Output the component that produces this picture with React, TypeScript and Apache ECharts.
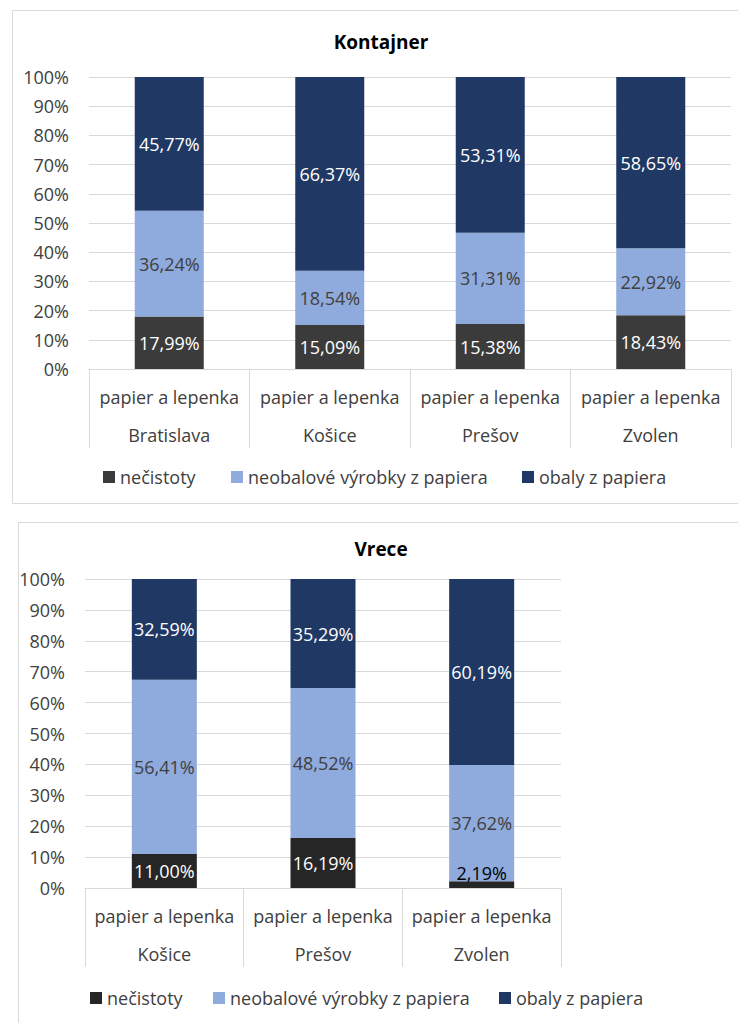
import React, { useEffect, useRef } from "react";
import * as echarts from "echarts";

const seriesNames = ["nečistoty", "neobalové výrobky z papiera", "obaly z papiera"];
const subCategory = "papier a lepenka";
const yTicks = [0, 10, 20, 30, 40, 50, 60, 70, 80, 90, 100];

const topTitle = "Kontajner";
const topCities = ["Bratislava", "Košice", "Prešov", "Zvolen"];
const topNecistoty = [17.99, 15.09, 15.38, 18.43];
const topNeobalove = [36.24, 18.54, 31.31, 22.92];
const topObaly = [45.77, 66.37, 53.31, 58.65];

const botTitle = "Vrece";
const botCities = ["Košice", "Prešov", "Zvolen"];
const botNecistoty = [11.0, 16.19, 2.19];
const botNeobalove = [56.41, 48.52, 37.62];
const botObaly = [32.59, 35.29, 60.19];

const FONT = "Open Sans";
const FS = 18;
const fmt = (v: number) => v.toFixed(2).replace(".", ",") + "%";

type Cfg = {
  title: string;
  cities: string[];
  values: number[][];
  colors: string[];
  grid: { left: number; top: number; width: number; height: number };
  barWidth: number;
  titleX: number;
  titleY: number;
  legendLefts: number[];
  legendTop: number;
  border: { x: number; y: number; w: number; h: number };
  smallLabelIdx?: number;
};

function buildOption(c: Cfg) {
  const labelColors = ["#ffffff", "#404040", "#ffffff"];
  return {
    animation: false,
    textStyle: { fontFamily: FONT },
    graphic: [
      {
        type: "rect",
        shape: { x: c.border.x, y: c.border.y, width: c.border.w, height: c.border.h },
        style: { fill: "none", stroke: "#d9d9d9", lineWidth: 1 },
        silent: true,
        z: -1,
      },
      {
        type: "text",
        x: c.titleX,
        y: c.titleY,
        style: {
          text: c.title,
          fontFamily: FONT,
          fontSize: 19,
          fontWeight: "bold",
          fill: "#000000",
          align: "center",
          verticalAlign: "middle",
        },
      },
    ],
    legend: seriesNames.map((n, i) => ({
      left: c.legendLefts[i],
      top: c.legendTop,
      itemWidth: 12,
      itemHeight: 12,
      icon: "rect",
      textStyle: { fontFamily: FONT, fontSize: FS, color: "#404040" },
      data: [{ name: n, itemStyle: { color: c.colors[i] } }],
    })),
    grid: { ...c.grid, containLabel: false },
    xAxis: {
      type: "category",
      data: c.cities,
      axisLine: { show: true, lineStyle: { color: "#d9d9d9", width: 1 } },
      axisTick: { show: true, interval: 0, length: 79, lineStyle: { color: "#d9d9d9", width: 1 } },
      axisLabel: {
        interval: 0,
        margin: 9,
        fontFamily: FONT,
        fontSize: FS,
        color: "#404040",
        lineHeight: 38,
        formatter: (v: string) => subCategory + "\n" + v,
      },
    },
    yAxis: {
      type: "value",
      min: 0,
      max: 100,
      interval: 10,
      axisLine: { show: false },
      axisTick: { show: false },
      splitLine: { lineStyle: { color: "#d9d9d9", width: 1 } },
      axisLabel: {
        margin: 20,
        fontFamily: FONT,
        fontSize: FS,
        color: "#404040",
        formatter: (v: number) => (yTicks.includes(v) ? v + "%" : ""),
      },
    },
    series: seriesNames.map((name, si) => ({
      name,
      type: "bar",
      stack: "total",
      barWidth: c.barWidth,
      itemStyle: { color: c.colors[si] },
      label: {
        show: true,
        position: "inside",
        fontFamily: FONT,
        fontSize: FS,
        color: labelColors[si],
        formatter: (p: any) => fmt(p.value),
      },
      data: c.values[si].map((v, di) =>
        si === 0 && c.smallLabelIdx === di
          ? { value: v, label: { color: "#000000", offset: [0, -12] } }
          : v
      ),
    })),
  };
}

function ChartBox({ cfg, top, height }: { cfg: Cfg; top: number; height: number }) {
  const ref = useRef<HTMLDivElement>(null);
  useEffect(() => {
    if (!ref.current) return;
    const chart = echarts.init(ref.current, undefined, { renderer: "svg" });
    chart.setOption(buildOption(cfg) as any);
    return () => chart.dispose();
  }, []);
  return (
    <div
      ref={ref}
      style={{ position: "absolute", left: 0, top, width: 738, height }}
    />
  );
}

const topCfg: Cfg = {
  title: topTitle,
  cities: topCities,
  values: [topNecistoty, topNeobalove, topObaly],
  colors: ["#3b3b3b", "#8faadc", "#203864"],
  grid: { left: 89, top: 77, width: 642, height: 292 },
  barWidth: 69,
  titleX: 381,
  titleY: 42,
  legendLefts: [98, 226, 517],
  legendTop: 463,
  border: { x: 12.5, y: 10.5, w: 740, h: 493 },
};

const botCfg: Cfg = {
  title: botTitle,
  cities: botCities,
  values: [botNecistoty, botNeobalove, botObaly],
  colors: ["#262626", "#8faadc", "#203864"],
  grid: { left: 85, top: 69, width: 476, height: 309 },
  barWidth: 65,
  titleX: 381,
  titleY: 39,
  legendLefts: [85, 208, 494],
  legendTop: 474,
  border: { x: 18.5, y: 12.5, w: 740, h: 520 },
  smallLabelIdx: 2,
};

export default function App() {
  return (
    <div style={{ position: "absolute", left: 0, top: 0, width: 738, height: 1023, background: "#fff" }}>
      <ChartBox cfg={topCfg} top={0} height={510} />
      <ChartBox cfg={botCfg} top={510} height={513} />
    </div>
  );
}
